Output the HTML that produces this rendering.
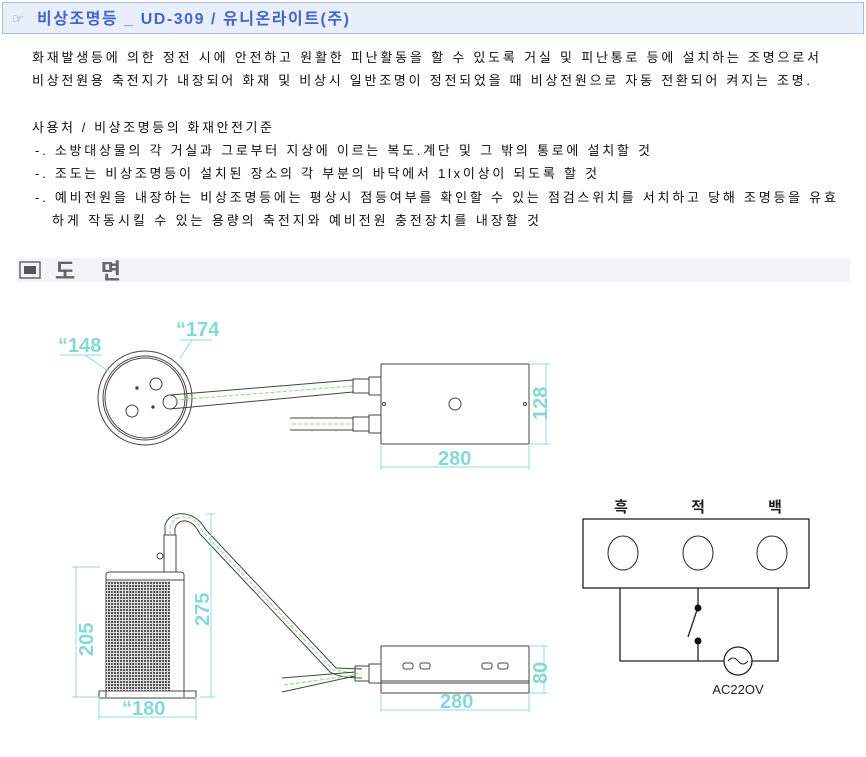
<!DOCTYPE html>
<html><head><meta charset="utf-8"><style>
html,body{margin:0;padding:0;background:#fff;width:866px;height:757px;overflow:hidden}
svg{display:block}
.t{font-family:"Liberation Sans","Noto Sans CJK KR",sans-serif;font-size:13px;fill:#111}
.d{font-family:"Liberation Sans",sans-serif;font-size:20px;font-weight:bold;fill:#86d8d4}
</style></head><body>
<svg width="866" height="757" viewBox="0 0 866 757" xmlns="http://www.w3.org/2000/svg">
<defs>
<pattern id="g" width="3" height="3" patternUnits="userSpaceOnUse"><rect width="3" height="3" fill="#ddd"/><rect width="2" height="2" fill="#555"/></pattern>
</defs>
<rect x="2.5" y="2.5" width="861" height="31" fill="#e8effb" stroke="#a9bde0"/>
<text x="12" y="23" font-family="DejaVu Sans,sans-serif" font-size="13" fill="#6f86c4">☞</text>
<text x="37" y="24" font-family="Liberation Sans,'Noto Sans CJK KR',sans-serif" font-size="16" font-weight="bold" fill="#4466d0" textLength="312">비상조명등 _ UD-309 / 유니온라이트(주)</text>
<text class="t" x="32" y="62" textLength="787">화재발생등에 의한 정전 시에 안전하고 원활한 피난활동을 할 수 있도록 거실 및 피난통로 등에 설치하는 조명으로서</text>
<text class="t" x="32" y="85" textLength="778">비상전원용 축전지가 내장되어 화재 및 비상시 일반조명이 정전되었을 때 비상전원으로 자동 전환되어 켜지는 조명.</text>
<text class="t" x="32" y="132" textLength="240">사용처 / 비상조명등의 화재안전기준</text>
<text class="t" x="35" y="155" textLength="615">-. 소방대상물의 각 거실과 그로부터 지상에 이르는 복도.계단 및 그 밖의 통로에 설치할 것</text>
<text class="t" x="35" y="178" textLength="562">-. 조도는 비상조명등이 설치된 장소의 각 부분의 바닥에서 1lx이상이 되도록 할 것</text>
<text class="t" x="35" y="202" textLength="801">-. 예비전원을 내장하는 비상조명등에는 평상시 점등여부를 확인할 수 있는 점검스위치를 서치하고 당해 조명등을 유효</text>
<text class="t" x="52" y="225" textLength="487">하게 작동시킬 수 있는 용량의 축전지와 예비전원 충전장치를 내장할 것</text>
<rect x="17" y="258" width="833" height="24" fill="#f3f4f7"/>
<rect x="20" y="262" width="20" height="16" fill="none" stroke="#666" stroke-width="1.5"/>
<rect x="24" y="266" width="12" height="8" fill="#555"/>
<text x="55" y="279" font-family="Liberation Sans,'Noto Sans CJK KR',sans-serif" font-size="22" font-weight="bold" fill="#666" textLength="66">도 면</text>

<g fill="none" stroke="#444" stroke-width="1">
<circle cx="145" cy="398" r="47"/>
<circle cx="145" cy="398" r="42"/>
<circle cx="145" cy="398" r="40"/>
<circle cx="156" cy="384" r="6"/>
<circle cx="132" cy="411" r="6"/>
<circle cx="137" cy="388" r="1.2" fill="#444"/>
<circle cx="153" cy="407" r="1.2" fill="#444"/>
<circle cx="170" cy="402" r="7"/>
<line x1="170" y1="395" x2="353" y2="380"/>
<line x1="170" y1="409" x2="353" y2="392"/>
<line x1="175" y1="400" x2="353" y2="386" stroke="#7ee07e" stroke-dasharray="4,2"/>
<rect x="353" y="379" width="16" height="14"/>
<rect x="369" y="377" width="12" height="18"/>
<line x1="290" y1="418" x2="353" y2="418"/>
<line x1="290" y1="430" x2="353" y2="430"/>
<line x1="292" y1="424" x2="353" y2="424" stroke="#7ee07e" stroke-dasharray="4,2"/>
<rect x="353" y="417" width="16" height="14"/>
<rect x="369" y="415" width="12" height="18"/>
<rect x="381" y="364" width="148" height="80"/>
<circle cx="455" cy="404" r="6"/>
<circle cx="384" cy="404" r="1.5"/><circle cx="525" cy="404" r="1.5"/>
<path d="M106 697 V575 Q106 572 110 572 H180 Q184 572 184 575 V697"/>
<line x1="106" y1="580" x2="184" y2="580"/>
<rect x="99" y="691" width="97" height="7"/>
<rect x="106" y="581" width="64" height="110" fill="url(#g)" stroke="none"/>
<rect x="164" y="535" width="12" height="37"/>
<circle cx="160" cy="556" r="3"/>
<path d="M165 535 V525 Q170 512 185 514 Q198 516 206 530 L336 668 L362 669"/>
<path d="M175 535 V528 Q178 520 186 521 Q194 522 200 534 L330 672 Q340 678 362 678"/>
<path d="M170 535 V527 Q174 516 186 517 Q196 518 203 532 L333 670 L362 674" stroke="#7ee07e" stroke-dasharray="4,2"/>
<line x1="282" y1="678" x2="355" y2="672"/>
<line x1="282" y1="692" x2="355" y2="676"/>
<line x1="284" y1="685" x2="355" y2="675" stroke="#7ee07e" stroke-dasharray="4,2"/>
<rect x="355" y="666" width="14" height="15"/>
<rect x="369" y="664" width="12" height="19"/>
<rect x="381" y="646" width="148" height="47"/>
<line x1="381" y1="681" x2="529" y2="681"/>
<line x1="381" y1="683" x2="529" y2="683"/>
<rect x="403" y="663" width="10" height="6" rx="2"/><rect x="420" y="663" width="10" height="6" rx="2"/>
<rect x="482" y="663" width="10" height="6" rx="2"/><rect x="498" y="663" width="10" height="6" rx="2"/>
<rect x="583" y="519" width="226" height="69" stroke="#222" stroke-width="1.3"/>
<ellipse cx="623" cy="553" rx="15" ry="17" stroke="#222"/>
<ellipse cx="698" cy="553" rx="15" ry="17" stroke="#222"/>
<ellipse cx="772" cy="553" rx="15" ry="17" stroke="#222"/>
<path d="M620 588 V661 H724 M752 661 H778 V588 M698 588 V608 M698 641 V661" stroke="#222" stroke-width="1.3"/>
<line x1="697" y1="610" x2="688" y2="637" stroke="#222" stroke-width="1.3"/>
<circle cx="738" cy="661" r="14" stroke="#222" stroke-width="1.3"/>
<path d="M728 661 Q733 655 738 661 Q743 667 748 661" stroke="#222"/>
</g>
<circle cx="698" cy="608" r="3.5" fill="#111"/>
<circle cx="698" cy="641" r="3.5" fill="#111"/>
<text x="738" y="694" text-anchor="middle" font-family="Liberation Sans,sans-serif" font-size="13" fill="#222">AC22OV</text>
<g font-family="Liberation Sans,'Noto Sans CJK KR',sans-serif" font-size="15" font-weight="bold" fill="#222" text-anchor="middle">
<text x="621" y="512">흑</text><text x="698" y="512">적</text><text x="775" y="512">백</text>
</g>

<g stroke="#8fdcd8" stroke-width="1" fill="none">
<line x1="60" y1="355" x2="102" y2="355"/><line x1="85" y1="355" x2="110" y2="372"/>
<line x1="180" y1="340" x2="212" y2="340"/><line x1="192" y1="340" x2="180" y2="358"/>
<line x1="529" y1="364" x2="550" y2="364"/><line x1="529" y1="444" x2="550" y2="444"/><line x1="546" y1="364" x2="546" y2="444"/>
<line x1="381" y1="444" x2="381" y2="470"/><line x1="529" y1="444" x2="529" y2="470"/><line x1="381" y1="467" x2="529" y2="467"/>
<line x1="72" y1="567" x2="100" y2="567"/><line x1="72" y1="697" x2="100" y2="697"/><line x1="76" y1="567" x2="76" y2="697"/>
<line x1="206" y1="514" x2="215" y2="514"/><line x1="200" y1="697" x2="215" y2="697"/><line x1="211" y1="514" x2="211" y2="697"/>
<line x1="99" y1="697" x2="99" y2="720"/><line x1="196" y1="697" x2="196" y2="720"/><line x1="99" y1="717" x2="196" y2="717"/>
<line x1="529" y1="646" x2="548" y2="646"/><line x1="529" y1="693" x2="548" y2="693"/><line x1="544" y1="646" x2="544" y2="693"/>
<line x1="381" y1="693" x2="381" y2="712"/><line x1="529" y1="693" x2="529" y2="712"/><line x1="381" y1="710" x2="529" y2="710"/>
</g>
<g class="d">
<text x="58" y="352">“148</text>
<text x="176" y="336">“174</text>
<text x="438" y="465">280</text>
<text transform="translate(547 420) rotate(-90)">128</text>
<text transform="translate(93 656) rotate(-90)">205</text>
<text transform="translate(209 626) rotate(-90)">275</text>
<text x="122" y="715">“180</text>
<text x="440" y="708">280</text>
<text transform="translate(547 684) rotate(-90)">80</text>
</g>
</svg>
</body></html>
